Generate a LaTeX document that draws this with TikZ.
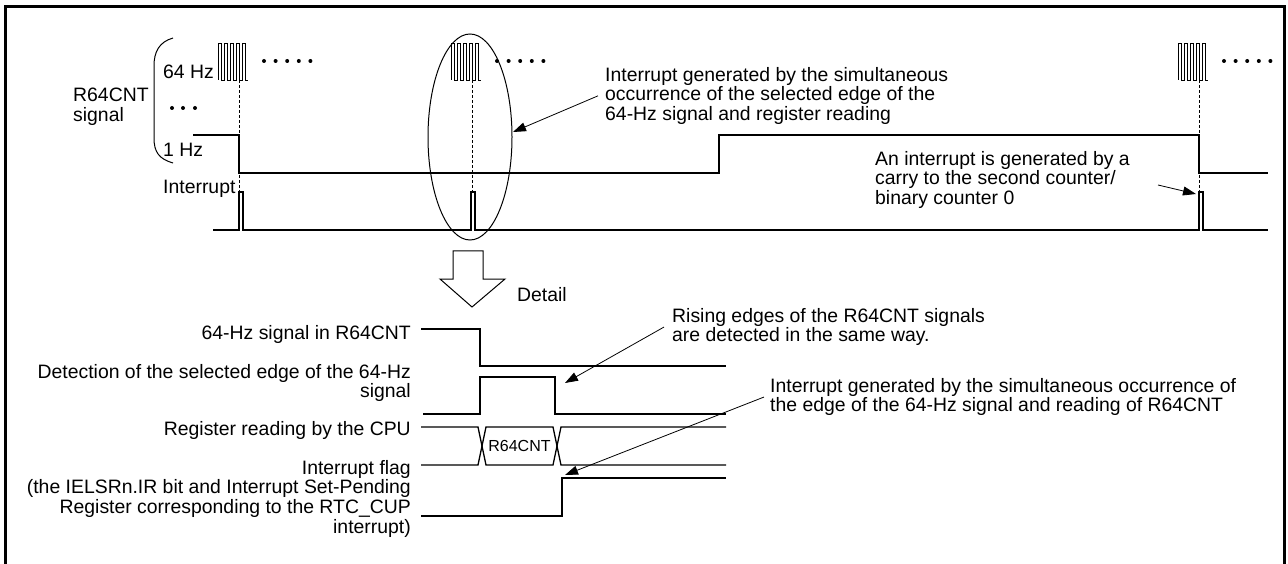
\documentclass[tikz,border=0pt]{standalone}
\usepackage{fontspec}
\setmainfont{Liberation Sans}
\usepackage{tikz}
\usetikzlibrary{arrows.meta}

\begin{document}
\begin{tikzpicture}[x=1pt, y=-1pt,
  senal/.style={line width=1.3pt},
  flecha/.style={-{Triangle[length=13pt,width=9pt]}, line width=0.8pt},
  texto/.style={inner sep=0pt, font=\fontsize{19.4}{19.6}\selectfont}]

\useasboundingbox (0,0) rectangle (1288,564);

% Marco
\draw[line width=3pt] (5,564) -- (5,7) -- (1284,7) -- (1284,564);

% Etiquetas de la senal R64CNT
\node[texto, anchor=north west, align=left] (lblR64) at (73,88) {R64CNT\\signal};
\node[texto, anchor=north west] (lbl64) at (163,65) {64 Hz};
\node[texto, anchor=north west] (lbl1) at (163,143) {1 Hz};
\node[texto, anchor=north west] (lblInt) at (163,180) {Interrupt};

\draw[line width=1pt] (173,38) .. controls (159,42) and (154,52) .. (154,66)
  -- (154,138) .. controls (154,152) and (159,159) .. (173,163);
\foreach \x in {172,183,195} \fill (\x,108) circle (2pt);

% Trenes de 64 Hz
\foreach \d in {239,472,1199} {
  \draw[line width=0.9pt] (\d-21,80) \foreach \k in {0,...,4} {
    -- (\d-21+6*\k,43) -- (\d-18+6*\k,43) -- (\d-18+6*\k,80) -- (\d-15+6*\k,80)};
  \foreach \k in {0,...,4} \fill (\d+25+11.6*\k,61) circle (2pt);
  \draw[line width=0.8pt, dash pattern=on 3pt off 2pt] (\d,80) -- (\d,192);
}

% Senal de 1 Hz
\draw[senal] (193,135) -- (239,135) -- (239,173) -- (719,173) -- (719,135)
  -- (1199,135) -- (1199,173) -- (1268,173);

% Interrupcion
\draw[senal] (213,230) -- (239,230) -- (239,192) -- (243,192) -- (243,230)
  -- (471,230) -- (471,192) -- (475,192) -- (475,230)
  -- (1199,230) -- (1199,192) -- (1203,192) -- (1203,230) -- (1268,230);

\draw[line width=1pt] (470,137) ellipse [x radius=42pt, y radius=103pt];

\node[texto, anchor=north west, align=left] (txtSim) at (605,67)
  {Interrupt generated by the simultaneous\\occurrence of the selected edge of the\\64-Hz signal and register reading};
\coordinate (tipSim) at (513,132);
\draw[flecha] ([xshift=-7pt]txtSim.west) -- (tipSim);

\node[texto, anchor=north west, align=left] (txtCarry) at (875,151)
  {An interrupt is generated by a\\carry to the second counter/\\binary counter 0};
\coordinate (pCarry) at (1158,185);
\coordinate (tipCarry) at (1196,194);
\draw[flecha] (pCarry) -- (tipCarry);

% Flecha de detalle
\draw[line width=1pt] (453,251) -- (483,251) -- (483,279) -- (505,279) -- (472,307)
  -- (440,279) -- (453,279) -- cycle;
\node[texto, anchor=north west] (lblDet) at (517,287) {Detail};

% Detalle
\node[texto, anchor=north east] (lblA) at (411,325) {64-Hz signal in R64CNT};
\node[texto, anchor=north east, align=right] (lblB) at (411,364)
  {Detection of the selected edge of the 64-Hz\\signal};
\node[texto, anchor=north east] (lblC) at (411,421) {Register reading by the CPU};
\node[texto, anchor=north east, align=right] (lblD) at (411,460)
  {Interrupt flag\\(the IELSRn.IR bit and Interrupt Set-Pending\\Register corresponding to the RTC\_CUP\\interrupt)};

\draw[senal] (421,329) -- (480,329) -- (480,366) -- (726,366);
\draw[senal] (423,414) -- (480,414) -- (480,377) -- (555,377) -- (555,414) -- (726,414);
\draw[senal] (421,427) -- (478,427) -- (486,465) -- (553,465) -- (561,427) -- (726,427);
\draw[senal] (421,465) -- (478,465) -- (486,427) -- (553,427) -- (561,465) -- (726,465);
\node[inner sep=0pt, font=\fontsize{16}{16}\selectfont] (bus) at (519.5,446) {R64CNT};
\draw[senal] (421,516) -- (562,516) -- (562,478) -- (726,478);

\node[texto, anchor=north west, align=left] (txtRise) at (672,308)
  {Rising edges of the R64CNT signals\\are detected in the same way.};
\coordinate (tipRise) at (565,383);
\draw[flecha] ([xshift=-8pt]txtRise.west) -- (tipRise);

\node[texto, anchor=north west, align=left] (txtEdge) at (770,378)
  {Interrupt generated by the simultaneous occurrence of\\the edge of the 64-Hz signal and reading of R64CNT};
\coordinate (tipEdge) at (565,475);
\draw[flecha] ([xshift=-6pt]txtEdge.west) -- (tipEdge);

\end{tikzpicture}
\end{document}
